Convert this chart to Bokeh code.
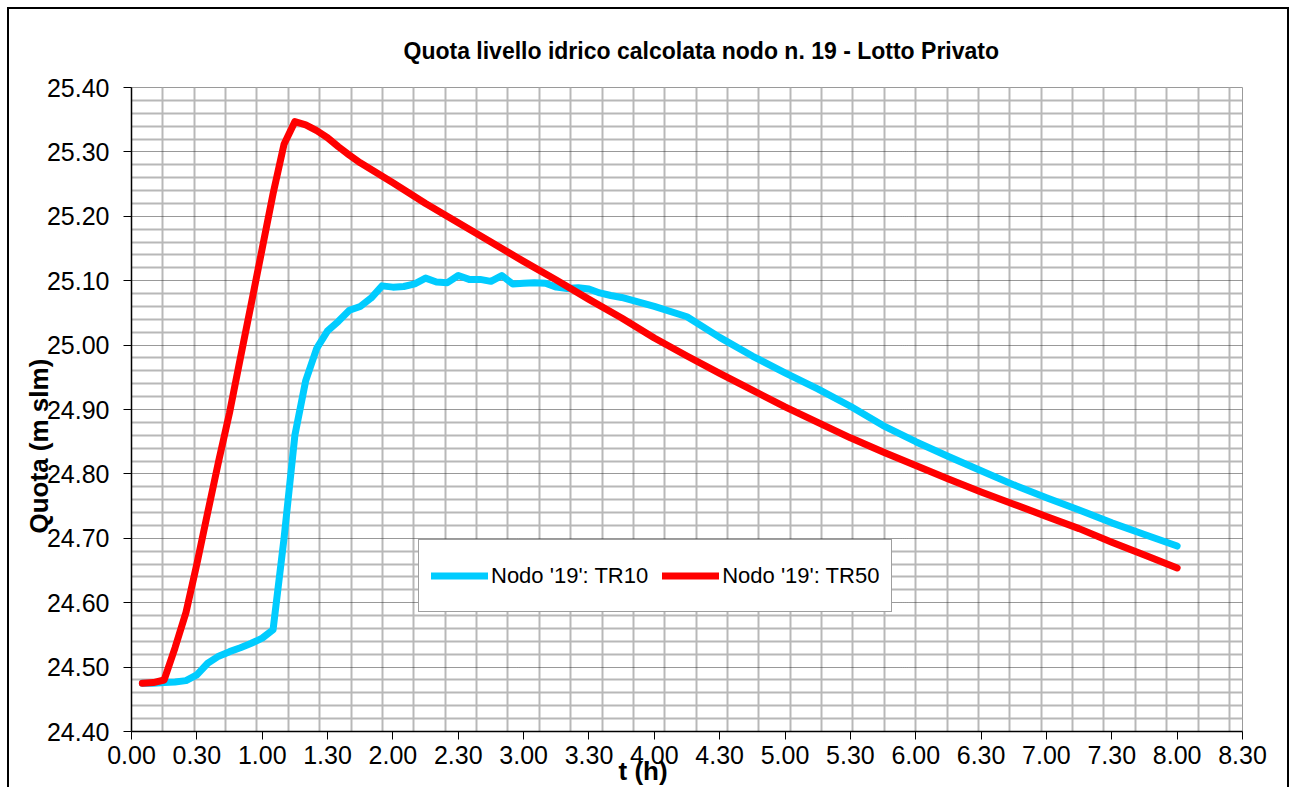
import numpy as np
from bokeh.plotting import figure
from bokeh.models import FixedTicker, Legend, LegendItem, Range1d, Title
from bokeh.embed import file_html
from bokeh.resources import INLINE

# ---------------- data ----------------
t_tr10 = [0.083, 0.167, 0.25, 0.333, 0.417, 0.5, 0.583, 0.667, 0.75, 0.833, 0.917, 1.0,
          1.083, 1.167, 1.25, 1.333, 1.417, 1.5, 1.583, 1.667, 1.75, 1.833, 1.917, 2.0,
          2.083, 2.167, 2.25, 2.333, 2.417, 2.5, 2.583, 2.667, 2.75, 2.833, 2.917, 3.0,
          3.083, 3.167, 3.25, 3.333, 3.417, 3.5, 3.583, 3.667, 3.75, 4.0, 4.25, 4.5,
          4.75, 5.0, 5.25, 5.5, 5.75, 6.0, 6.25, 6.5, 6.75, 7.0, 7.25, 7.5, 7.75, 8.0]
q_tr10 = [24.475, 24.475, 24.476, 24.477, 24.479, 24.488, 24.506, 24.517, 24.524, 24.530, 24.537, 24.545,
          24.558, 24.700, 24.860, 24.945, 24.995, 25.022, 25.037, 25.054, 25.060, 25.073, 25.092, 25.090,
          25.091, 25.095, 25.104, 25.098, 25.097, 25.108, 25.102, 25.102, 25.099, 25.108, 25.095, 25.096,
          25.097, 25.096, 25.090, 25.088, 25.089, 25.087, 25.081, 25.077, 25.074, 25.060, 25.044, 25.012,
          24.983, 24.957, 24.932, 24.905, 24.875, 24.850, 24.827, 24.805, 24.783, 24.763, 24.744, 24.724,
          24.706, 24.688]

t_tr50 = [0.083, 0.167, 0.25, 0.333, 0.417, 0.5, 0.583, 0.667, 0.75, 0.833, 0.917, 1.0,
          1.083, 1.167, 1.25, 1.333, 1.417, 1.5, 1.583, 1.667, 1.75, 2.0, 2.25, 2.5,
          2.75, 3.0, 3.25, 3.5, 3.75, 4.0, 4.25, 4.5, 4.75, 5.0, 5.25, 5.5,
          5.75, 6.0, 6.25, 6.5, 6.75, 7.0, 7.25, 7.5, 7.75, 8.0]
q_tr50 = [24.475, 24.476, 24.480, 24.530, 24.585, 24.660, 24.740, 24.820, 24.895, 24.980, 25.065, 25.150,
          25.235, 25.312, 25.347, 25.342, 25.333, 25.322, 25.308, 25.295, 25.283, 25.252, 25.220, 25.190,
          25.160, 25.130, 25.101, 25.071, 25.042, 25.011, 24.983, 24.956, 24.930, 24.904, 24.880, 24.856,
          24.834, 24.813, 24.792, 24.772, 24.753, 24.734, 24.715, 24.694, 24.674, 24.654]

x_ticks = [0.0, 0.5, 1.0, 1.5, 2.0, 2.5, 3.0, 3.5, 4.0, 4.5, 5.0, 5.5, 6.0, 6.5, 7.0, 7.5, 8.0, 8.5]
x_tick_labels = ["0.00", "0.30", "1.00", "1.30", "2.00", "2.30", "3.00", "3.30", "4.00",
                 "4.30", "5.00", "5.30", "6.00", "6.30", "7.00", "7.30", "8.00", "8.30"]
y_ticks = [24.4, 24.5, 24.6, 24.7, 24.8, 24.9, 25.0, 25.1, 25.2, 25.3, 25.4]
y_tick_labels = ["24.40", "24.50", "24.60", "24.70", "24.80", "24.90",
                 "25.00", "25.10", "25.20", "25.30", "25.40"]

title_text = "Quota livello idrico calcolata nodo n. 19 - Lotto Privato"
y_title = "Quota (m slm)"
x_title = "t (h)"
series_names = ["Nodo '19': TR10", "Nodo '19': TR50"]
series_colors = ["#00CCFF", "#FF0000"]

FONT = "Liberation Sans"

# ---------------- figure ----------------
p = figure(width=1282, height=780,
           x_range=Range1d(0, 8.5), y_range=Range1d(24.4, 25.4),
           output_backend="svg", toolbar_location=None,
           min_border_left=122, min_border_right=49,
           min_border_top=78, min_border_bottom=58)
p.styles = {"margin-left": "7px", "margin-top": "7px",
            "border-top": "2px solid black", "border-left": "2px solid black",
            "border-right": "2px solid black"}
p.background_fill_color = "white"
p.border_fill_color = "white"
p.outline_line_color = "#9a9a9a"
p.outline_line_width = 1

# title
p.title.text = title_text
p.title.align = "left"
p.title.offset = 272
p.title.standoff = 48
p.title.text_font = FONT
p.title.text_font_size = "23px"
p.title.text_font_style = "bold"
p.title.text_color = "black"

# grids
p.xgrid.ticker = FixedTicker(ticks=[round(0.24 * k, 4) for k in range(1, 36)])
p.xgrid.grid_line_color = "#b8b8b8"
p.xgrid.grid_line_width = 2

minor_y = [round(24.4 + 0.02 * k, 4) for k in range(51) if k % 5 != 0]
p.ygrid.ticker = FixedTicker(ticks=y_ticks, minor_ticks=minor_y)
p.ygrid.grid_line_color = "#333333"
p.ygrid.grid_line_width = 1
p.ygrid.grid_line_dash = "1 1"
p.ygrid.minor_grid_line_color = "#b8b8b8"
p.ygrid.minor_grid_line_width = 2

# axes
p.xaxis.ticker = FixedTicker(ticks=x_ticks)
p.xaxis.major_label_overrides = {t: s for t, s in zip(x_ticks, x_tick_labels)}
p.yaxis.ticker = FixedTicker(ticks=y_ticks)
p.yaxis.major_label_overrides = {t: s for t, s in zip(y_ticks, y_tick_labels)}
for ax in (p.xaxis, p.yaxis):
    ax.axis_line_color = "black"
    ax.axis_line_width = 1.5
    ax.major_tick_line_color = "black"
    ax.major_tick_line_width = 1
    ax.major_tick_out = 8
    ax.major_tick_in = 0
    ax.minor_tick_line_color = None
    ax.major_label_text_font = FONT
    ax.major_label_text_font_size = "25px"
    ax.major_label_text_color = "black"
p.yaxis.major_label_standoff = 14
p.xaxis.major_label_standoff = 6

# axis titles placed as side titles so they can be shifted like the reference
p.add_layout(Title(text=y_title, align="left", offset=198, standoff=-20,
                   text_font=FONT, text_font_size="26px", text_font_style="bold",
                   text_color="black"), "left")
p.add_layout(Title(text=x_title, align="left", offset=487, standoff=-25,
                   text_font=FONT, text_font_size="26px", text_font_style="bold",
                   text_color="black"), "below")

# lines
r10 = p.line(t_tr10, q_tr10, line_color=series_colors[0], line_width=7,
             line_join="round", line_cap="round")
r50 = p.line(t_tr50, q_tr50, line_color=series_colors[1], line_width=7,
             line_join="round", line_cap="round")

legend = Legend(items=[LegendItem(label=series_names[0], renderers=[r10]),
                       LegendItem(label=series_names[1], renderers=[r50])],
                orientation="horizontal", location=(287, 119))
legend.label_text_font = FONT
legend.label_text_font_size = "22px"
legend.label_text_color = "black"
legend.glyph_width = 57
legend.glyph_height = 47
legend.label_height = 47
legend.label_standoff = 3
legend.spacing = 14
legend.padding = 12
legend.margin = 0
legend.border_line_color = "#404040"
legend.border_line_width = 1
legend.background_fill_color = "white"
legend.background_fill_alpha = 1
p.add_layout(legend)

open("out.html", "w").write(file_html(p, INLINE))
